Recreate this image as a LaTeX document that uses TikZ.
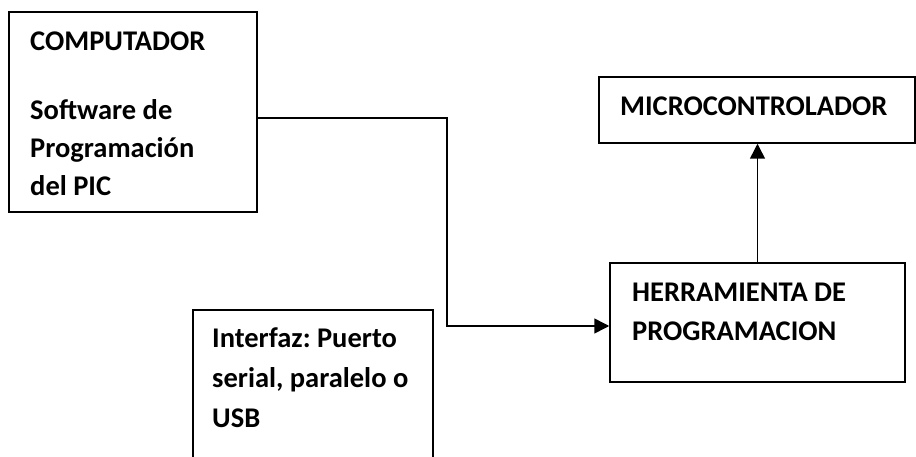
\documentclass[tikz,border=0pt]{standalone}
\usepackage{fontspec}
\setmainfont{Carlito}
\usetikzlibrary{arrows.meta}
\frenchspacing
\tikzset{
  caja/.style={draw,line width=1.5pt,inner sep=0pt},
  texto/.style={anchor=base west,align=left,inner sep=0pt,font=\fontsize{28.5}{38.5}\selectfont\bfseries},
  flecha/.style={line width=1.5pt,-{Triangle[length=15pt,width=15pt]}}
}
\begin{document}
\begin{tikzpicture}[x=1pt,y=1pt]
         \clip (0,0) rectangle (916,456);
         \node[caja,minimum width=248pt,minimum height=200pt] (comp) at (133,344) {};
         \node[caja,minimum width=316pt,minimum height=66pt] (micro) at (757,346) {};
         \node[caja,minimum width=295pt,minimum height=119pt] (herra) at (757.5,133.5) {};
         \node[caja,minimum width=240pt,minimum height=170pt] (inter) at (313,61) {};
         \node[texto] (tcomp) at (30,405) {COMPUTADOR};
         \node[texto] (tsoft) at (30,260) {Software de\\Programación\\del PIC};
         \node[texto] (tmicro) at (620,340) {MICROCONTROLADOR};
         \node[texto] (therra) at (632,116) {HERRAMIENTA DE\\PROGRAMACION};
         \node[texto,font=\fontsize{28.5}{40}\selectfont\bfseries] (tinter) at (212,29) {Interfaz: Puerto\\serial, paralelo o\\USB};
         \coordinate (codo) at (447,130);
         \draw[flecha] ([yshift=-6pt]comp.east) -| (codo) -- (codo -| herra.west);
         \draw[flecha] (herra.north) -- (herra.north |- micro.south);
      \end{tikzpicture}
\end{document}
